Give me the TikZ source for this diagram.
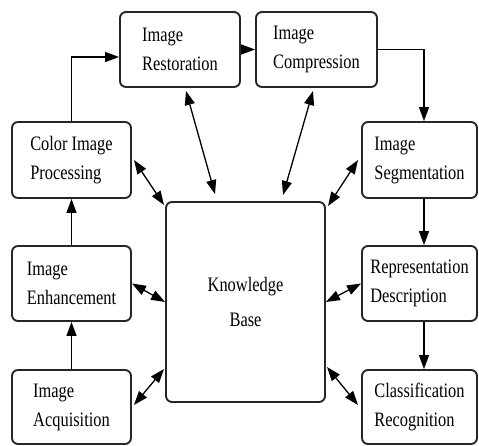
\documentclass[tikz,border=0pt]{standalone}
\usepackage{fontspec}
\setmainfont{Liberation Serif}[FakeStretch=0.8]
\usetikzlibrary{arrows.meta}
\begin{document}
\begin{tikzpicture}[x=1pt,y=-1pt,
  box/.style={draw, draw=black!85, line width=1.9pt, rounded corners=6pt, align=left,
    font=\fontsize{20.5}{29}\selectfont, inner sep=0pt},
  tip/.style={Triangle[length=14pt,width=10pt]},
  arr/.style={line width=1.3pt, -{Triangle[length=14pt,width=10pt]}},
  darr/.style={line width=1.3pt, {Triangle[length=14pt,width=10pt]}-{Triangle[length=14pt,width=10pt]}}]
\useasboundingbox (0,0) rectangle (479,445);
\node[box, minimum width=120pt, minimum height=75pt] (rest) at (180,49.5) {Image\\Restoration};
\node[box, minimum width=121pt, minimum height=75pt] (comp) at (316.5,49.5) {Image\\Compression};
\node[box, minimum width=119pt, minimum height=76pt] (color) at (71.5,160) {Color Image\\Processing};
\node[box, minimum width=115pt, minimum height=76pt] (seg) at (419.5,160) {Image\\Segmentation};
\node[box, minimum width=119pt, minimum height=75pt] (enh) at (71.5,283.5) {Image\\Enhancement};
\node[box, minimum width=115pt, minimum height=75pt] (rep) at (419.5,283.5) {Representation\\Description};
\node[box, minimum width=119pt, minimum height=74pt] (acq) at (71.5,407) {Image\\Acquisition};
\node[box, minimum width=115pt, minimum height=74pt] (cls) at (419.5,407) {Classification\\Recognition};
\node[box, align=center, font=\fontsize{20.5}{35}\selectfont, minimum width=159pt, minimum height=200pt] (kb) at (245.5,302) {Knowledge\\Base};
% flow
\draw[arr] (color.north) |- ([yshift=-7.5pt]rest.west);
\draw[arr] (rest.east) -- (comp.west);
\draw[arr] (comp.east) -| ([xshift=4.5pt]seg.north);
\draw[arr] ([xshift=4.5pt]seg.south) -- ([xshift=4.5pt]rep.north);
\draw[arr] ([xshift=4.5pt]rep.south) -- ([xshift=4.5pt]cls.north);
\draw[arr] (acq.north) -- (enh.south);
\draw[arr] (enh.north) -- (color.south);
% knowledge base links
\coordinate (s1) at (134,160);
\coordinate (k1) at (164,205);
\coordinate (s2) at (186,91);
\coordinate (k2) at (215,194);
\coordinate (s3) at (313,91);
\coordinate (k3) at (283,195);
\coordinate (s4) at (358,160);
\coordinate (k4) at (328,206);
\coordinate (s5) at (134,405);
\coordinate (k5) at (164,369);
\coordinate (s6) at (358,405);
\coordinate (k6) at (327,367);
\draw[darr] (s1) -- (k1);
\draw[darr] (s2) -- (k2);
\draw[darr] (s3) -- (k3);
\draw[darr] (s4) -- (k4);
\draw[darr] (s5) -- (k5);
\draw[darr] (s6) -- (k6);
\draw[darr] (enh.east) -- (kb.west);
\draw[darr] (rep.west) -- (kb.east);
\end{tikzpicture}
\end{document}
